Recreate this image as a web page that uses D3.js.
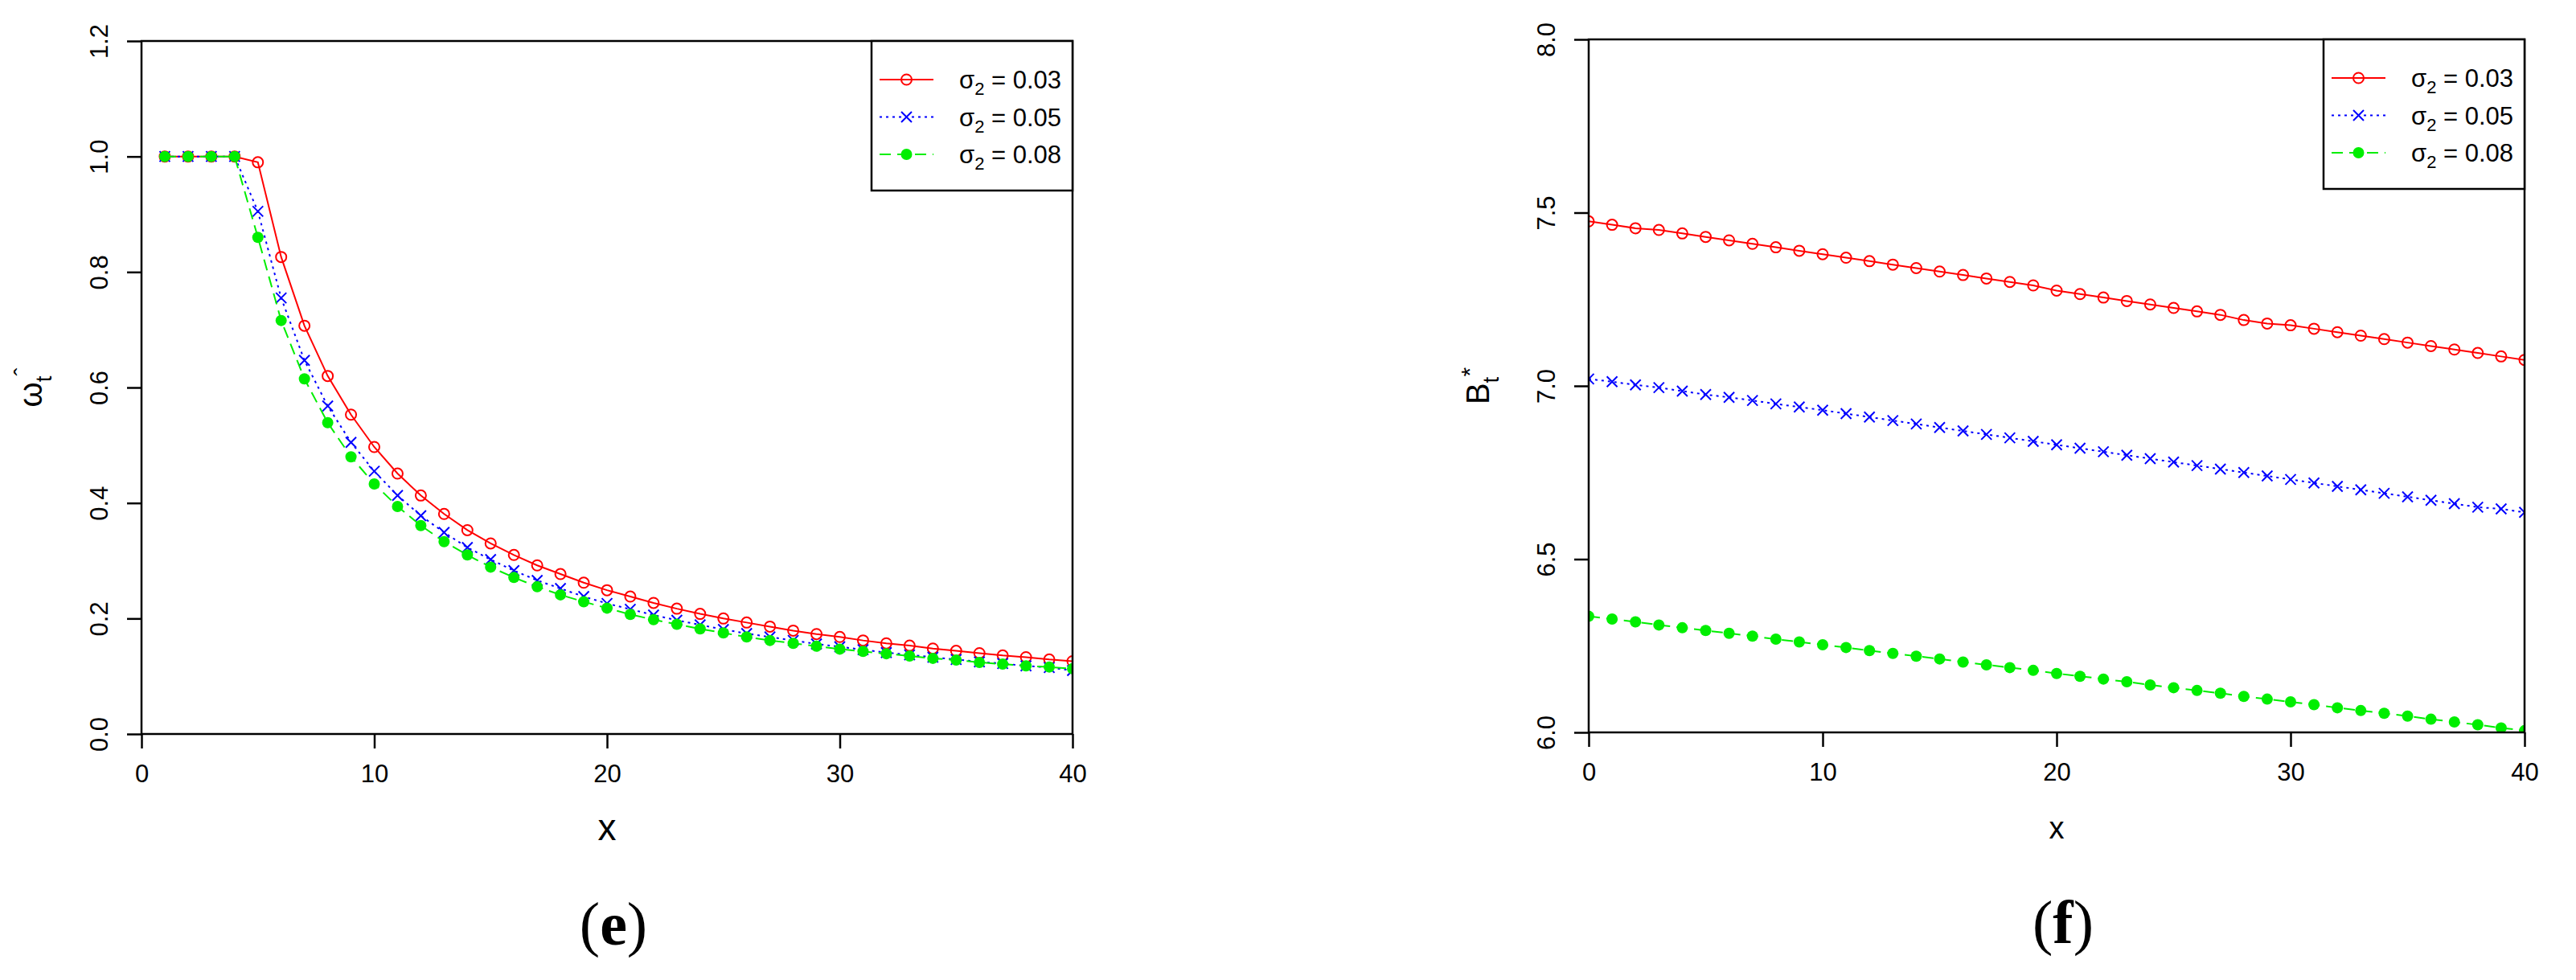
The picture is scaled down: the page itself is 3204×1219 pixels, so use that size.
<!DOCTYPE html>
<html>
<head>
<meta charset="utf-8">
<script src="https://cdn.jsdelivr.net/npm/d3@7"></script>
<style>
  body { margin: 0; background: #fff; }
  svg { font-family: "Liberation Sans", Arial, sans-serif; }
</style>
</head>
<body>
<div id="chart"></div>
<script>
// --- data ---
const legendLabels = ["0.03", "0.05", "0.08"];

const xE = d3.range(1, 41);
const omega03 = [1, 1, 1, 1, 0.99, 0.826, 0.707, 0.620, 0.553, 0.497, 0.451, 0.413, 0.381, 0.353, 0.330, 0.310, 0.292, 0.277, 0.262, 0.249,
  0.238, 0.227, 0.217, 0.208, 0.200, 0.193, 0.186, 0.179, 0.173, 0.168, 0.162, 0.157, 0.153, 0.148, 0.144, 0.140, 0.136, 0.133, 0.129, 0.126];
const omega05 = [1, 1, 1, 1, 0.905, 0.755, 0.647, 0.568, 0.505, 0.455, 0.413, 0.378, 0.349, 0.323, 0.302, 0.283, 0.266, 0.252, 0.238, 0.226,
  0.216, 0.206, 0.197, 0.189, 0.181, 0.174, 0.168, 0.162, 0.156, 0.151, 0.146, 0.141, 0.137, 0.133, 0.129, 0.125, 0.122, 0.118, 0.115, 0.110];
const omega08 = [1, 1, 1, 1, 0.860, 0.716, 0.615, 0.539, 0.480, 0.433, 0.394, 0.361, 0.333, 0.310, 0.289, 0.271, 0.255, 0.241, 0.229, 0.218,
  0.207, 0.198, 0.190, 0.182, 0.175, 0.168, 0.162, 0.157, 0.152, 0.147, 0.143, 0.139, 0.135, 0.131, 0.128, 0.124, 0.121, 0.118, 0.116, 0.113];

const xF = d3.range(0, 41);
const b03 = [7.475, 7.465, 7.455, 7.45, 7.44, 7.43, 7.42, 7.41, 7.40, 7.39, 7.38, 7.37, 7.36, 7.35, 7.34, 7.33, 7.32, 7.31, 7.30, 7.29,
  7.275, 7.265, 7.255, 7.245, 7.235, 7.225, 7.215, 7.205, 7.19, 7.18, 7.175, 7.165, 7.155, 7.145, 7.135, 7.125, 7.115, 7.105, 7.095, 7.085, 7.075];
const b05 = [7.02, 7.012, 7.003, 6.995, 6.985, 6.975, 6.967, 6.958, 6.948, 6.939, 6.93, 6.92, 6.91, 6.90, 6.89, 6.88, 6.87, 6.86, 6.85, 6.84,
  6.83, 6.82, 6.81, 6.80, 6.79, 6.78, 6.77, 6.76, 6.75, 6.74, 6.73, 6.72, 6.71, 6.70, 6.69, 6.68, 6.67, 6.66, 6.65, 6.645, 6.635];
const b08 = [6.335, 6.327, 6.319, 6.31, 6.302, 6.294, 6.286, 6.278, 6.269, 6.261, 6.253, 6.245, 6.236, 6.228, 6.22, 6.212, 6.203, 6.195, 6.187, 6.179,
  6.17, 6.162, 6.154, 6.146, 6.137, 6.129, 6.121, 6.113, 6.104, 6.096, 6.088, 6.08, 6.071, 6.063, 6.055, 6.047, 6.038, 6.03, 6.022, 6.013, 6.005];

const xTicks = [0, 10, 20, 30, 40];
const yTicksE = [0.0, 0.2, 0.4, 0.6, 0.8, 1.0, 1.2];
const yTicksF = [6.0, 6.5, 7.0, 7.5, 8.0];

// series styles: colour, dash, marker
const styles = [
  { color: "#ff0000", dash: null, marker: "circle" },
  { color: "#0000ff", dash: "3,5", marker: "cross" },
  { color: "#00ee00", dash: "14,8", marker: "dot" }
];

const svg = d3.select("#chart").append("svg")
  .attr("width", 3204).attr("height", 1219);

function drawMarker(g, type, color, x, y) {
  if (type === "circle") {
    g.append("circle").attr("cx", x).attr("cy", y).attr("r", 6.5)
      .attr("fill", "none").attr("stroke", color).attr("stroke-width", 2);
  } else if (type === "cross") {
    const s = 6.5;
    g.append("path").attr("d", `M${x - s},${y - s}L${x + s},${y + s}M${x - s},${y + s}L${x + s},${y - s}`)
      .attr("stroke", color).attr("stroke-width", 2);
  } else {
    g.append("circle").attr("cx", x).attr("cy", y).attr("r", 7).attr("fill", color);
  }
}

function drawPanel(opt) {
  const { left, right, top, bottom } = opt.box;
  const x = d3.scaleLinear().domain([0, 40]).range([left, right]);
  const y = d3.scaleLinear().domain(opt.yDomain).range([bottom, top]);
  const g = svg.append("g");

  // clip to plot box
  g.append("clipPath").attr("id", opt.id)
    .append("rect").attr("x", left).attr("y", top).attr("width", right - left).attr("height", bottom - top);

  const plot = g.append("g").attr("clip-path", `url(#${opt.id})`);
  opt.series.forEach((vals, i) => {
    const st = styles[i];
    const pts = opt.xs.map((d, j) => [x(d), y(vals[j])]);
    plot.append("path").attr("d", d3.line()(pts))
      .attr("fill", "none").attr("stroke", st.color).attr("stroke-width", 2)
      .attr("stroke-dasharray", st.dash);
    pts.forEach(p => drawMarker(plot, st.marker, st.color, p[0], p[1]));
  });

  // box
  g.append("rect").attr("x", left).attr("y", top).attr("width", right - left).attr("height", bottom - top)
    .attr("fill", "none").attr("stroke", "#000").attr("stroke-width", 2.5);

  // axes
  const xAxis = g.append("g").attr("transform", `translate(0,${bottom})`)
    .call(d3.axisBottom(x).tickValues(xTicks).tickSize(18).tickPadding(20).tickFormat(d3.format("d")));
  const yAxis = g.append("g").attr("transform", `translate(${left},0)`)
    .call(d3.axisLeft(y).tickValues(opt.yTicks).tickSize(18).tickFormat(d3.format(".1f")));
  [xAxis, yAxis].forEach(a => {
    a.select(".domain").remove();
    a.selectAll("line").attr("stroke", "#000").attr("stroke-width", 2.5);
    a.selectAll("text").attr("font-size", 31).attr("fill", "#000")
      .attr("font-family", "Liberation Sans, Arial, sans-serif");
  });
  yAxis.selectAll("text")
    .attr("x", null).attr("dy", null)
    .attr("text-anchor", "middle")
    .attr("transform", d => `translate(${-42},${y(d)}) rotate(-90)`)
    .attr("y", 0);
  // the tick text sits inside a translated tick group, so undo its offset
  yAxis.selectAll(".tick").each(function (d) {
    d3.select(this).select("text").attr("transform", `translate(-42,0) rotate(-90)`);
  });

  // axis titles
  g.append("text").attr("x", (left + right) / 2).attr("y", bottom + 132)
    .attr("text-anchor", "middle").attr("font-size", opt.xTitleSize).text("x");

  const yt = g.append("text").attr("transform", `translate(${left - 124},${(top + bottom) / 2}) rotate(-90)`)
    .attr("text-anchor", "middle").attr("font-size", 40);
  yt.append("tspan").text(opt.yTitle);
  yt.append("tspan").attr("font-size", 28).attr("dy", 12).text("t");
  yt.append("tspan").attr("font-size", 30).attr("dy", -26).text(opt.yTitleSup);

  // panel letter
  const lab = g.append("text").attr("x", (left + right) / 2 + 8).attr("y", bottom + 262)
    .attr("text-anchor", "middle").attr("font-family", "Liberation Serif, Times New Roman, serif").attr("font-size", 76);
  lab.append("tspan").text("(");
  lab.append("tspan").attr("font-weight", "bold").text(opt.letter);
  lab.append("tspan").text(")");

  // legend
  const lw = 250, lh = 186;
  const lx = right - lw;
  const lg = g.append("g");
  lg.append("rect").attr("x", lx).attr("y", top).attr("width", lw).attr("height", lh)
    .attr("fill", "#fff").attr("stroke", "#000").attr("stroke-width", 2.5);
  legendLabels.forEach((lbl, i) => {
    const st = styles[i];
    const ly = top + 48 + i * 46.5;
    lg.append("line").attr("x1", lx + 10).attr("x2", lx + 77).attr("y1", ly).attr("y2", ly)
      .attr("stroke", st.color).attr("stroke-width", 2).attr("stroke-dasharray", st.dash);
    drawMarker(lg, st.marker, st.color, lx + 43.5, ly);
    const t = lg.append("text").attr("x", lx + 109).attr("y", ly + 11).attr("font-size", 31);
    t.append("tspan").text("σ");
    t.append("tspan").attr("font-size", 22).attr("dy", 8).text("2");
    t.append("tspan").attr("dy", -8).text(" = " + lbl);
  });
}

drawPanel({
  id: "clipE", letter: "e",
  box: { left: 176, right: 1334, top: 51, bottom: 913 },
  yDomain: [0, 1.2], yTicks: yTicksE,
  xs: xE, series: [omega03, omega05, omega08],
  yTitle: "ω", yTitleSup: "ˆ", xTitleSize: 46
});

drawPanel({
  id: "clipF", letter: "f",
  box: { left: 1976, right: 3140, top: 49, bottom: 911 },
  yDomain: [6, 8], yTicks: yTicksF,
  xs: xF, series: [b03, b05, b08],
  yTitle: "B", yTitleSup: "*", xTitleSize: 38
});
</script>
</body>
</html>
